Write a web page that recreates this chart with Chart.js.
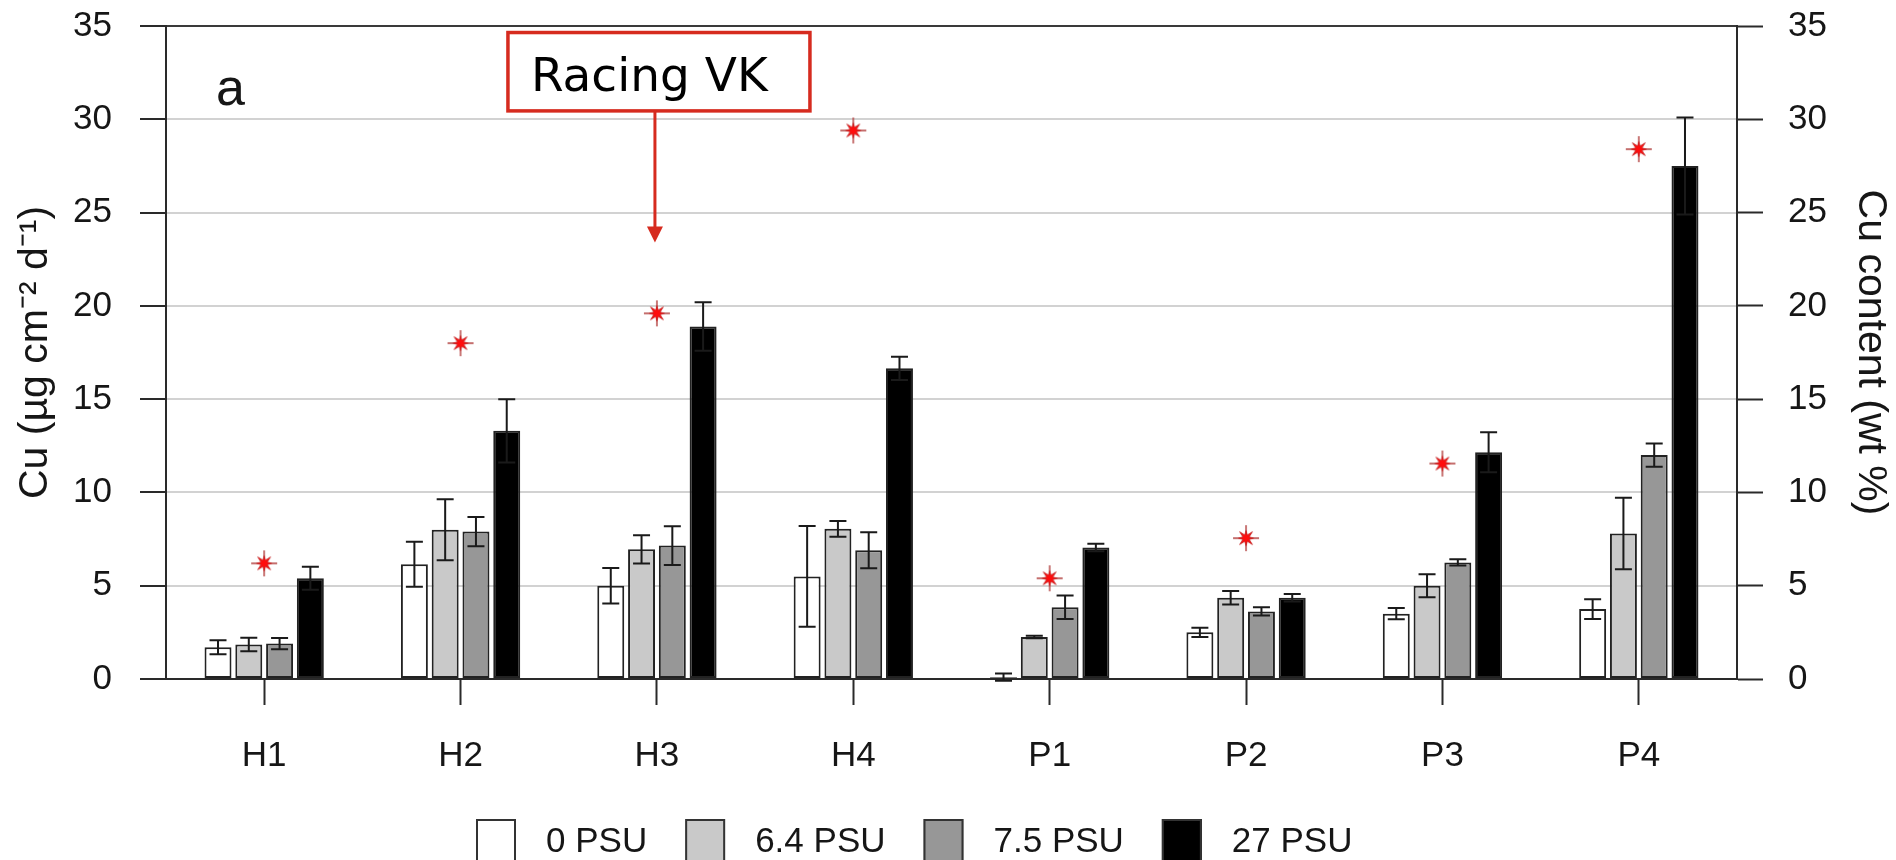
<!DOCTYPE html>
<html>
<head>
<meta charset="utf-8">
<script src="https://cdn.jsdelivr.net/npm/chart.js@4.4.1/dist/chart.umd.min.js"></script>
<style>
  html, body { margin: 0; padding: 0; background: #fff; }
  canvas { display: block; }
</style>
</head>
<body>
<canvas id="chart" width="1896" height="860"></canvas>
<script>
// Sites
const categories = ['H1', 'H2', 'H3', 'H4', 'P1', 'P2', 'P3', 'P4'];

// Cu release rate (µg cm-2 d-1) per salinity, with standard deviations
const psu0     = [1.7, 6.15, 5.0, 5.5, 0.1, 2.5, 3.5, 3.75];
const psu0Err  = [0.38, 1.2, 0.95, 2.7, 0.2, 0.25, 0.3, 0.53];
const psu64    = [1.85, 8.0, 6.95, 8.05, 2.25, 4.35, 5.0, 7.8];
const psu64Err = [0.36, 1.63, 0.76, 0.42, 0.07, 0.36, 0.62, 1.92];
const psu75    = [1.9, 7.9, 7.15, 6.9, 3.85, 3.62, 6.25, 12.0];
const psu75Err = [0.3, 0.78, 1.04, 0.97, 0.63, 0.22, 0.17, 0.62];
const psu27    = [5.4, 13.3, 18.9, 16.65, 7.05, 4.35, 12.15, 27.5];
const psu27Err = [0.62, 1.7, 1.3, 0.62, 0.2, 0.2, 1.07, 2.6];

// Cu content of the paint (wt %), right axis
const cuContent = [6.2, 18.0, 19.6, 29.4, 5.4, 7.55, 11.55, 28.4];

// Axis ticks (both axes)
const yTicks = [0, 5, 10, 15, 20, 25, 30, 35];

const seriesLabels = ['0 PSU', '6.4 PSU', '7.5 PSU', '27 PSU'];
const seriesFills  = ['#ffffff', '#c9c9c9', '#979797', '#000000'];

const FONT = '"Liberation Sans", Arial, Helvetica, sans-serif';
const INK = '#161616';
const AXIS = '#2a2a2a';

// Red asterisk marker for the Cu content points
function makeStar() {
  const c = document.createElement('canvas');
  c.width = 28; c.height = 28;
  const g = c.getContext('2d');
  const cx = 14, cy = 14;
  g.strokeStyle = '#b3403f';
  g.lineWidth = 1.4;
  g.beginPath();
  g.moveTo(cx, 1); g.lineTo(cx, 27);
  g.moveTo(1, cy); g.lineTo(27, cy);
  g.stroke();
  g.beginPath();
  for (let i = 0; i < 16; i++) {
    const a = i * Math.PI / 8 - Math.PI / 2;
    const outer = (i % 4 === 2) ? 9 : 7.5;
    const r = (i % 2 === 0) ? outer : 3.4;
    const px = cx + r * Math.cos(a), py = cy + r * Math.sin(a);
    if (i === 0) g.moveTo(px, py); else g.lineTo(px, py);
  }
  g.closePath();
  g.fillStyle = '#ff0d0d';
  g.fill();
  g.strokeStyle = '#c02020';
  g.lineWidth = 0.8;
  g.stroke();
  return c;
}
const starImg = makeStar();

// Error bars drawn on top of each bar
const errorBarPlugin = {
  id: 'errorBars',
  afterDatasetsDraw(chart) {
    const { ctx } = chart;
    const yScale = chart.scales.y;
    chart.data.datasets.forEach((ds, di) => {
      if (!ds.errors) return;
      const meta = chart.getDatasetMeta(di);
      meta.data.forEach((bar, i) => {
        const v = ds.data[i], e = ds.errors[i];
        const x = bar.x;
        const yTop = yScale.getPixelForValue(v + e);
        const yBot = yScale.getPixelForValue(v - e);
        const cap = 8.5;
        ctx.save();
        ctx.strokeStyle = '#1a1a1a';
        ctx.lineWidth = 2;
        ctx.beginPath();
        ctx.moveTo(x, yTop); ctx.lineTo(x, yBot);
        ctx.moveTo(x - cap, yTop); ctx.lineTo(x + cap, yTop);
        ctx.moveTo(x - cap, yBot); ctx.lineTo(x + cap, yBot);
        ctx.stroke();
        ctx.restore();
      });
    });
  }
};

// Panel letter, callout box and legend
const decorPlugin = {
  id: 'decor',
  afterDraw(chart) {
    const { ctx, chartArea, scales: { x, y } } = chart;
    ctx.save();

    // panel letter
    ctx.fillStyle = INK;
    ctx.font = '52px ' + FONT;
    ctx.textAlign = 'left';
    ctx.textBaseline = 'alphabetic';
    ctx.fillText('a', chartArea.left + 50, 105);

    // callout pointing at H3
    const cx = x.getPixelForValue(categories.indexOf('H3'));
    const boxL = cx - 149, boxR = cx + 153;
    const boxT = y.getPixelForValue(34.65), boxB = y.getPixelForValue(30.45);
    const tip = y.getPixelForValue(23.4);
    const red = '#d62b1f';
    ctx.fillStyle = '#ffffff';
    ctx.fillRect(boxL, boxT, boxR - boxL, boxB - boxT);
    ctx.strokeStyle = red;
    ctx.lineWidth = 3.5;
    ctx.strokeRect(boxL, boxT, boxR - boxL, boxB - boxT);
    ctx.fillStyle = '#000';
    ctx.font = '47px "DejaVu Sans", Verdana, sans-serif';
    ctx.textBaseline = 'alphabetic';
    ctx.fillText('Racing VK', boxL + 23, boxB - 20);
    const ax = cx - 2;
    ctx.strokeStyle = red;
    ctx.lineWidth = 3;
    ctx.beginPath();
    ctx.moveTo(ax, boxB + 1);
    ctx.lineTo(ax, tip - 14);
    ctx.stroke();
    ctx.fillStyle = red;
    ctx.beginPath();
    ctx.moveTo(ax - 8, tip - 16);
    ctx.lineTo(ax + 8, tip - 16);
    ctx.lineTo(ax, tip);
    ctx.closePath();
    ctx.fill();

    // legend
    ctx.font = '35px ' + FONT;
    ctx.textBaseline = 'middle';
    let lx = 476;
    const boxTop = 819, boxSize = 40;
    seriesLabels.forEach((label, i) => {
      ctx.fillStyle = seriesFills[i];
      ctx.fillRect(lx, boxTop, boxSize, boxSize + 4);
      ctx.strokeStyle = '#333';
      ctx.lineWidth = 2;
      ctx.strokeRect(lx + 1, boxTop + 1, boxSize - 2, boxSize + 4);
      lx += boxSize + 30;
      ctx.fillStyle = INK;
      ctx.fillText(label, lx, 842);
      lx += ctx.measureText(label).width + 38;
    });
    ctx.restore();
  }
};

const errorSets = [psu0Err, psu64Err, psu75Err, psu27Err];
const valueSets = [psu0, psu64, psu75, psu27];

const barDatasets = valueSets.map((vals, i) => ({
  type: 'bar',
  label: seriesLabels[i],
  data: vals,
  errors: errorSets[i],
  backgroundColor: seriesFills[i],
  borderColor: '#222',
  borderWidth: 2,
  borderSkipped: false,
  categoryPercentage: 0.627,
  barPercentage: 0.876,
  yAxisID: 'y',
  order: 1
}));

const starDataset = {
  type: 'line',
  label: 'Cu content',
  data: cuContent,
  yAxisID: 'y2',
  showLine: false,
  pointStyle: starImg,
  pointRadius: 12,
  pointHoverRadius: 12,
  order: 0
};

const tickFont = { family: FONT, size: 35 };

// keep vertical axes from reserving extra room above/below the plot
function fixVertical(width) {
  return s => { s.width = width; s.paddingTop = 0; s.paddingBottom = 0; };
}

new Chart(document.getElementById('chart'), {
  type: 'bar',
  data: {
    labels: categories,
    datasets: [starDataset, ...barDatasets]
  },
  options: {
    responsive: false,
    animation: false,
    devicePixelRatio: 1,
    layout: { padding: { top: 26, left: 0, right: 0, bottom: 0 } },
    plugins: {
      legend: { display: false },
      tooltip: { enabled: false }
    },
    scales: {
      x: {
        type: 'category',
        offset: true,
        grid: {
          offset: false,
          drawOnChartArea: false,
          drawTicks: true,
          tickLength: 26,
          tickColor: AXIS,
          tickWidth: 2
        },
        border: { display: true, color: AXIS, width: 2 },
        ticks: { color: INK, font: tickFont, padding: 30, maxRotation: 0 },
        afterFit(s) { s.height = 181; s.paddingLeft = 0; s.paddingRight = 0; }
      },
      y: {
        position: 'left',
        min: 0, max: 35,
        afterBuildTicks(s) { s.ticks = yTicks.map(v => ({ value: v })); },
        grid: {
          color: ctx => (ctx.tick && ctx.tick.value === 35) ? '#3a3a3a' : '#d2d2d2',
          lineWidth: 2,
          drawTicks: true,
          tickLength: 26,
          tickColor: AXIS,
          tickWidth: 2
        },
        border: { display: true, color: AXIS, width: 2 },
        ticks: { color: INK, font: tickFont, padding: 28 },
        title: {
          display: true,
          text: 'Cu (µg cm⁻² d⁻¹)',
          color: INK,
          font: { family: FONT, size: 41 },
          padding: { top: 11, bottom: 0 }
        },
        afterFit: fixVertical(166)
      },
      y2: {
        position: 'right',
        min: 0, max: 35,
        afterBuildTicks(s) { s.ticks = yTicks.map(v => ({ value: v })); },
        grid: {
          drawOnChartArea: false,
          drawTicks: true,
          tickLength: 26,
          tickColor: AXIS,
          tickWidth: 2
        },
        border: { display: true, color: AXIS, width: 2 },
        ticks: { color: INK, font: tickFont, padding: 25 },
        title: {
          display: true,
          text: 'Cu content (wt %)',
          color: INK,
          font: { family: FONT, size: 41 },
          padding: { top: 1, bottom: 0 }
        },
        afterFit: fixVertical(159)
      }
    }
  },
  plugins: [errorBarPlugin, decorPlugin]
});
</script>
</body>
</html>
